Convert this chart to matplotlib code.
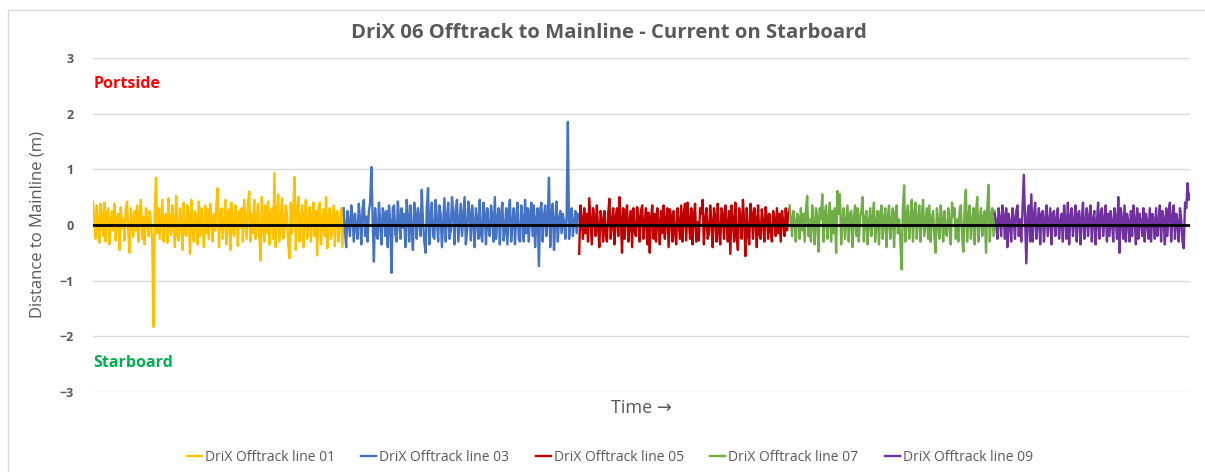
import numpy as np
import matplotlib
matplotlib.use("Agg")
import matplotlib.pyplot as plt
from matplotlib.patches import Rectangle

plt.rcParams['font.family'] = ['Open Sans', 'DejaVu Sans']

# offtrack values (m), one list per survey line
line01 = [0.42, 0.10, -0.25, 0.35, 0.05, -0.32, 0.38, 0.15, -0.20, 0.40,
          -0.30, 0.20, 0.30, -0.35, 0.05, 0.25, -0.10, 0.38, -0.28, 0.15,
          0.20, -0.45, 0.32, -0.05, 0.10, -0.28, 0.30, 0.42, -0.15, -0.50,
          0.30, 0.05, -0.22, 0.25, -0.10, 0.35, -0.30, 0.20, 0.45, -0.25,
          0.15, -0.35, 0.30, 0.10, -0.20, 0.25, 0.05, -0.30, -1.83, 0.20,
          0.85, -0.15, 0.30, -0.25, 0.10, 0.45, -0.30, 0.15, 0.20, -0.32,
          0.48, -0.10, -0.18, 0.35, 0.05, -0.40, 0.52, -0.20, -0.28, 0.30,
          0.10, -0.45, 0.40, -0.15, -0.20, 0.35, 0.15, -0.52, 0.45, -0.05,
          -0.30, 0.25, 0.10, -0.35, 0.42, -0.20, 0.30, 0.05, -0.40, 0.35,
          -0.15, 0.28, -0.25, 0.38, 0.10, -0.30, 0.20, -0.10, 0.40, 0.66,
          -0.40, 0.15, 0.30, -0.25, 0.05, 0.45, -0.35, 0.20, 0.28, -0.45,
          0.40, -0.10, -0.20, 0.35, 0.15, -0.38, 0.25, -0.05, 0.30, -0.30,
          0.45, 0.10, -0.25, 0.38, 0.60, -0.30, 0.20, -0.15, 0.45, -0.25,
          0.10, 0.38, -0.20, -0.64, 0.50, 0.05, -0.30, 0.35, -0.15, 0.42,
          -0.35, 0.20, 0.30, -0.25, 0.93, -0.40, 0.15, 0.55, -0.30, 0.10,
          0.48, -0.25, -0.10, 0.35, 0.20, -0.35, -0.60, 0.40, -0.15, 0.30,
          0.86, -0.45, 0.25, 0.50, -0.30, 0.10, 0.35, -0.40, 0.20, 0.45,
          -0.25, 0.05, 0.32, -0.30, 0.15, 0.40, -0.20, 0.25, -0.55, 0.30,
          0.40, -0.35, 0.10, 0.28, -0.20, 0.50, -0.42, 0.15, 0.30, -0.25,
          0.05, 0.35, -0.38, 0.20, 0.25, -0.30, 0.10, 0.30, -0.40, 0.25]
line03 = [0.30, -0.10, -0.40, 0.25, 0.05, -0.20, 0.35, 0.15, -0.30, 0.20,
          -0.05, -0.25, 0.38, 0.10, -0.35, 0.30, 0.45, -0.20, 0.15, -0.30,
          0.25, 0.40, 1.04, 0.10, -0.66, 0.30, -0.15, -0.25, 0.40, 0.05,
          -0.35, 0.30, 0.20, -0.20, 0.25, -0.40, 0.35, 0.05, -0.86, 0.30,
          0.35, -0.15, -0.30, 0.42, 0.10, -0.25, 0.30, -0.05, 0.20, -0.40,
          0.45, 0.15, -0.30, 0.35, -0.10, -0.45, 0.40, 0.20, -0.25, 0.30,
          0.10, -0.20, 0.63, 0.05, -0.30, -0.50, 0.30, 0.66, -0.35, 0.15,
          0.40, -0.20, -0.25, 0.45, 0.10, -0.30, 0.35, 0.20, -0.40, 0.05,
          0.48, -0.30, 0.15, 0.40, -0.25, -0.10, 0.50, 0.20, -0.35, 0.30,
          0.45, -0.30, 0.05, 0.38, -0.20, 0.15, 0.50, -0.35, -0.10, 0.42,
          0.20, -0.28, 0.35, 0.05, -0.40, 0.30, 0.10, -0.25, 0.45, -0.15,
          -0.30, 0.40, 0.20, -0.35, 0.30, -0.05, -0.20, 0.35, 0.15, -0.30,
          0.50, -0.25, 0.10, 0.30, -0.35, 0.20, 0.40, -0.28, -0.10, 0.30,
          -0.35, 0.25, 0.45, -0.30, 0.05, 0.30, -0.35, 0.15, 0.40, -0.25,
          -0.30, 0.35, 0.10, -0.30, 0.45, -0.15, 0.30, -0.30, 0.20, 0.40,
          -0.20, 0.35, -0.40, 0.10, 0.30, -0.74, 0.25, 0.40, -0.30, 0.15,
          0.35, -0.20, 0.10, 0.85, -0.40, 0.20, 0.38, -0.45, 0.05, 0.42,
          -0.30, 0.10, 0.25, -0.15, 0.20, 0.05, -0.25, 0.15, 1.85, -0.25,
          0.10, 0.30, -0.20, 0.05, 0.25, -0.15, 0.20, 0.10]
line05 = [-0.52, 0.35, 0.10, -0.25, 0.30, -0.15, 0.20, -0.30, 0.48, 0.05,
          -0.35, 0.30, 0.15, -0.20, 0.35, -0.05, -0.40, 0.25, 0.10, -0.30,
          0.25, -0.15, -0.30, 0.20, 0.47, -0.25, 0.05, 0.30, -0.35, 0.15,
          0.30, -0.20, 0.50, 0.10, -0.50, 0.30, -0.25, 0.20, 0.35, -0.30,
          0.05, 0.25, -0.40, 0.30, -0.10, -0.20, 0.32, 0.15, -0.30, 0.25,
          0.35, -0.25, 0.05, 0.30, -0.35, 0.22, -0.50, 0.10, 0.35, -0.25,
          0.20, -0.30, 0.30, 0.05, -0.35, 0.25, -0.15, 0.35, -0.25, 0.10,
          0.30, -0.40, 0.28, 0.15, -0.30, 0.25, -0.10, -0.35, 0.30, 0.05,
          -0.25, 0.35, -0.30, 0.20, 0.38, -0.28, 0.40, 0.10, -0.25, 0.30,
          -0.35, 0.15, 0.38, -0.30, 0.05, -0.28, 0.30, 0.20, 0.45, -0.35,
          0.10, 0.30, -0.25, -0.15, 0.35, 0.05, -0.40, 0.30, 0.15, -0.30,
          0.38, -0.10, -0.35, 0.30, 0.20, -0.25, 0.35, 0.05, -0.30, 0.25,
          -0.52, 0.35, 0.10, -0.30, 0.40, -0.20, -0.45, 0.30, 0.15, -0.25,
          0.45, 0.05, -0.56, 0.30, -0.15, -0.35, 0.38, 0.20, -0.25, 0.30,
          0.10, -0.40, 0.35, -0.15, -0.25, 0.28, 0.05, -0.30, 0.32, 0.15,
          -0.25, 0.20, -0.10, -0.30, 0.25, 0.10, -0.20, 0.30, -0.15, 0.20,
          -0.30, 0.25, 0.05, -0.20, 0.30, -0.10, 0.20, 0.30]
line07 = [0.35, 0.10, -0.20, 0.25, 0.05, -0.30, 0.20, 0.15, -0.25, 0.30,
          -0.10, 0.20, -0.30, 0.25, 0.52, -0.20, 0.10, -0.30, 0.35, 0.05,
          -0.35, 0.30, 0.15, -0.48, 0.30, 0.10, 0.55, -0.30, 0.20, 0.35,
          -0.25, 0.10, 0.40, -0.30, 0.25, -0.15, 0.30, -0.50, 0.61, 0.20,
          0.55, -0.35, 0.10, 0.30, -0.25, 0.05, 0.35, -0.30, 0.20, 0.25,
          -0.40, 0.10, 0.35, -0.20, 0.30, -0.30, 0.15, 0.25, 0.50, -0.30,
          0.10, 0.25, -0.35, 0.05, 0.30, -0.20, 0.15, 0.40, -0.30, 0.05,
          0.25, -0.35, 0.20, 0.35, -0.25, 0.10, 0.30, -0.40, 0.15, 0.35,
          -0.25, 0.05, 0.30, -0.40, 0.20, 0.35, -0.15, 0.10, -0.30, -0.80,
          0.30, 0.71, -0.30, 0.15, 0.35, -0.25, 0.05, 0.45, -0.30, 0.20,
          0.40, -0.25, 0.10, 0.35, -0.30, 0.15, 0.45, -0.20, 0.05, 0.30,
          -0.25, 0.35, -0.30, 0.10, 0.25, -0.20, -0.50, 0.30, 0.05, -0.25,
          0.35, 0.10, -0.30, 0.25, -0.15, -0.20, 0.30, 0.05, -0.35, 0.40,
          0.15, 0.30, -0.25, 0.10, -0.30, 0.25, 0.35, -0.20, -0.48, 0.30,
          0.63, -0.30, 0.15, 0.35, -0.25, 0.05, 0.30, -0.35, 0.20, 0.50,
          -0.30, 0.10, 0.30, -0.20, 0.15, 0.25, -0.50, 0.30, 0.72, -0.30,
          0.15, 0.30, -0.20, 0.25]
line09 = [0.20, 0.05, -0.25, 0.30, 0.10, -0.20, 0.35, 0.15, -0.25, 0.30,
          -0.40, 0.20, 0.05, -0.30, 0.30, 0.10, -0.25, 0.25, 0.35, -0.20,
          0.10, -0.30, 0.30, 0.90, 0.10, -0.69, 0.20, 0.35, -0.30, 0.55,
          -0.30, 0.15, 0.40, -0.25, 0.05, 0.30, -0.35, 0.20, 0.25, -0.30,
          0.10, 0.35, -0.20, 0.05, 0.30, -0.35, 0.20, 0.25, -0.20, 0.10,
          0.30, -0.25, 0.05, 0.20, -0.30, 0.35, 0.10, -0.25, 0.40, -0.35,
          0.15, 0.30, -0.20, 0.05, 0.35, -0.30, 0.20, 0.25, -0.35, 0.10,
          0.40, -0.25, 0.05, 0.30, -0.20, 0.15, 0.35, -0.30, 0.10, 0.25,
          -0.35, 0.05, 0.40, -0.25, 0.20, 0.30, -0.20, 0.10, 0.35, -0.30,
          0.20, -0.20, 0.25, 0.05, -0.30, 0.30, 0.10, -0.25, 0.50, -0.50,
          0.30, 0.10, -0.25, 0.35, -0.30, 0.20, 0.05, -0.30, 0.25, -0.20,
          0.35, 0.10, -0.35, 0.30, -0.25, 0.20, 0.05, -0.20, 0.30, -0.30,
          0.20, 0.05, -0.25, 0.30, -0.30, 0.20, 0.10, -0.25, 0.30, -0.20,
          0.05, 0.35, -0.30, 0.25, 0.10, -0.35, 0.30, -0.20, 0.25, 0.40,
          -0.30, 0.15, 0.35, -0.25, 0.20, 0.05, -0.30, 0.30, 0.10, -0.30,
          -0.42, 0.40, 0.30, 0.75, 0.45, 0.55]

series = [line01, line03, line05, line07, line09]
labels = ['DriX Offtrack line 01', 'DriX Offtrack line 03', 'DriX Offtrack line 05',
          'DriX Offtrack line 07', 'DriX Offtrack line 09']
colors = ['#FFC000', '#4472C4', '#C00000', '#70AD47', '#7030A0']
yticks = [-3, -2, -1, 0, 1, 2, 3]

grey = '#595959'

fig = plt.figure(figsize=(12.05, 4.72), dpi=100)
ax = fig.add_axes([0.0772, 0.1695, 0.9104, 0.708])

# chart frame
fig.patches.append(Rectangle((8 / 1205, -0.01), 1.0, 1.0 - 10 / 472 + 0.01,
                             transform=fig.transFigure, fill=False,
                             edgecolor='#D9D9D9', lw=1))

start = 0
for vals, lab, col in zip(series, labels, colors):
    x = np.arange(start, start + len(vals))
    ax.plot(x, vals, color=col, lw=1.7, label=lab)
    start += len(vals) - 1
total = start

ax.plot([0, total], [0, 0], color='black', lw=2, zorder=5)

ax.set_xlim(0, total)
ax.set_ylim(-3, 3)
ax.set_yticks(yticks)
ax.set_xticks([])
ax.grid(axis='y', color='#D9D9D9', lw=1)
ax.set_axisbelow(True)
for s in ax.spines.values():
    s.set_visible(False)
ax.tick_params(axis='y', length=0, pad=14, labelsize=9, labelcolor=grey)
for t in ax.get_yticklabels():
    t.set_fontweight('bold')

ax.set_ylabel('Distance to Mainline (m)', fontsize=12, color=grey, labelpad=10)
ax.set_xlabel('Time →', fontsize=13, color=grey, labelpad=5)
fig.text(0.505, 0.93, 'DriX 06 Offtrack to Mainline - Current on Starboard',
         fontsize=14.6, fontweight='bold', color=grey, ha='center', va='center')

ax.text(0.5, 2.53, 'Portside', color='#FF0000', fontsize=11.5, fontweight='bold',
        va='center', ha='left')
ax.text(0.5, -2.48, 'Starboard', color='#00B050', fontsize=11.5, fontweight='bold',
        va='center', ha='left')

fig.legend(loc='center', bbox_to_anchor=(0.506, 0.03), ncol=5, frameon=False,
           fontsize=10, handlelength=1.1, handletextpad=0.2, columnspacing=1.9,
           labelcolor=grey)

fig.savefig('out.png', dpi=100)
